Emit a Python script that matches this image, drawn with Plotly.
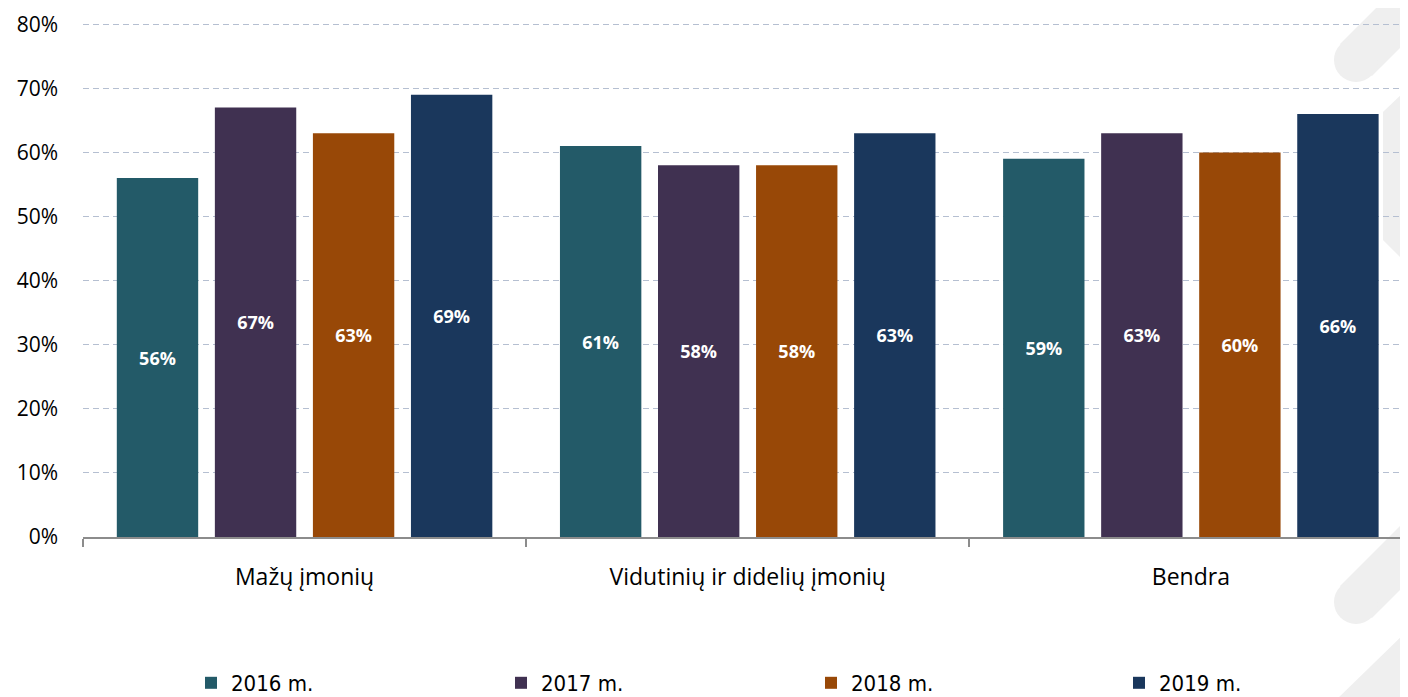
import plotly.graph_objects as go

categories = ["Mažų įmonių", "Vidutinių ir didelių įmonių", "Bendra"]
years = ["2016 m.", "2017 m.", "2018 m.", "2019 m."]
values_2016 = [0.56, 0.61, 0.59]
values_2017 = [0.67, 0.58, 0.63]
values_2018 = [0.63, 0.58, 0.60]
values_2019 = [0.69, 0.63, 0.66]
y_ticks = [0, 0.1, 0.2, 0.3, 0.4, 0.5, 0.6, 0.7, 0.8]

colors = ["#235a68", "#403151", "#984807", "#1a375c"]
series = [values_2016, values_2017, values_2018, values_2019]

# the page body has an 8px margin, so the figure is a bit smaller than the window
OFF = 8
W, H = 1408 - OFF, 697 - OFF
L, R, T, B = 83 - OFF, 0, 23 - OFF, 697 - 537


def px2paper(x, y):
    # page pixel position -> paper coords
    x, y = x - OFF, y - OFF
    return (x - L) / (W - L - R), (H - B - y) / (H - T - B)


def poly(points):
    pts = [px2paper(x, y) for x, y in points]
    return "M " + " L ".join(f"{x:.4f},{y:.4f}" for x, y in pts) + " Z"


def blob(cx, cy, r):
    x0, y0 = px2paper(cx - r, cy + r)
    x1, y1 = px2paper(cx + r, cy - r)
    return dict(type="circle", x0=x0, y0=y0, x1=x1, y1=y1)


legend_names = ["legend", "legend2", "legend3", "legend4"]
legend_left_px = [191, 501, 811, 1119]

fig = go.Figure()
for name, vals, col, lg in zip(years, series, colors, legend_names):
    fig.add_trace(go.Bar(
        x=categories,
        y=vals,
        name=name,
        legend=lg,
        marker=dict(color=col, line=dict(width=0)),
        texttemplate="%{y:.0%}",
        textposition="inside",
        insidetextanchor="middle",
        textangle=0,
        textfont=dict(family="Open Sans", size=18, color="white", weight="bold"),
    ))

# faint watermark bands on the right
shapes = [
    dict(type="path", path=poly([(1340, 44), (1420, -36), (1452, -4), (1372, 76)])),
    blob(1356, 60, 22),
    dict(type="path", path=poly([(1408, 88), (1383, 112), (1383, 240), (1408, 265)])),
    dict(type="path", path=poly([(1340, 586), (1420, 506), (1452, 538), (1372, 618)])),
    blob(1356, 602, 22),
    dict(type="path", path=poly([(1336, 700), (1408, 630), (1440, 662), (1404, 700)])),
]
for s in shapes:
    s.update(xref="paper", yref="paper", fillcolor="#efefef",
             line=dict(width=0), layer="below")

layout_legends = {}
for lg, lx in zip(legend_names, legend_left_px):
    layout_legends[lg] = dict(
        orientation="h",
        x=px2paper(lx, 0)[0], xanchor="left",
        y=px2paper(0, 683)[1], yanchor="middle",
        font=dict(family="DejaVu Sans Condensed, DejaVu Sans", size=22, color="black"),
        bgcolor="rgba(0,0,0,0)",
    )

fig.update_layout(
    width=W,
    height=H,
    margin=dict(l=L, r=R, t=T, b=B, autoexpand=False),
    paper_bgcolor="white",
    plot_bgcolor="rgba(0,0,0,0)",
    barmode="group",
    bargap=0.115,
    bargroupgap=0.17,
    shapes=shapes,
    showlegend=True,
    font=dict(family="Open Sans", color="black"),
    **layout_legends,
)

fig.update_xaxes(
    range=[-0.5, 2.49],
    showgrid=False,
    showline=True,
    linecolor="#8c8c8c",
    linewidth=2,
    ticks="outside",
    tickson="boundaries",
    ticklen=8,
    tickcolor="#8c8c8c",
    tickwidth=2,
    ticklabelstandoff=18,
    tickfont=dict(family="Open Sans", size=23, color="black"),
)
fig.update_yaxes(
    range=[0, 0.802],
    tickvals=y_ticks,
    tickformat=".0%",
    showgrid=True,
    gridcolor="#b5bfd1",
    griddash="6px,4px",
    gridwidth=1,
    zeroline=False,
    showline=False,
    ticklabelstandoff=24,
    ticklabeloverflow="allow",
    tickfont=dict(family="Open Sans", size=21, color="black"),
)

fig.write_html("out.html")
